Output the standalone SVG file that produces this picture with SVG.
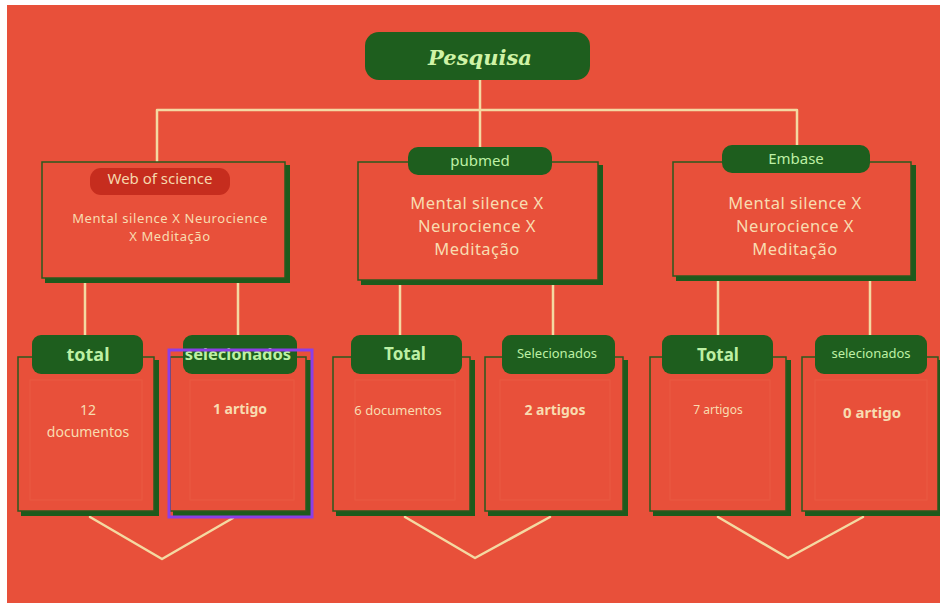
<svg xmlns="http://www.w3.org/2000/svg" width="940" height="603" viewBox="0 0 940 603">
<style>
.bg{fill:#E8503A}
.ln{stroke:#F4D9A2;stroke-width:2.5;fill:none;stroke-linecap:round;stroke-linejoin:round}
.sh{fill:#1E5A1C}
.bx{fill:#E8503A;stroke:#2A5A1E;stroke-width:1.5}
.inner{fill:none;stroke:#EA5A42;stroke-width:1}
.pill{fill:#1E5E1E}
.lab{font-family:"Noto Sans","Liberation Sans",sans-serif;fill:#BDF0A4;text-anchor:middle}
.body{font-family:"Noto Sans","Liberation Sans",sans-serif;fill:#F8DCB0;text-anchor:middle}
</style>
<rect x="0" y="0" width="940" height="603" fill="#FFFFFF"/>
<rect class="bg" x="7" y="5" width="933" height="598"/>

<g id="connectors">
  <path class="ln" d="M480 80 V110 M157 110 H797 M157 110 V162 M480 110 V147 M797 110 V145"/>
  <path class="ln" d="M85 280 V336 M238 280 V336 M400 282 V336 M553 282 V336 M718 278 V336 M870 278 V336"/>
  <path class="ln" d="M90 517 L162 559 L233 518"/>
  <path class="ln" d="M405 517 L475 558 L550 517"/>
  <path class="ln" d="M718 517 L788 558 L863 517"/>
</g>

<g id="pesquisa">
  <rect class="pill" x="365" y="32" width="225" height="48" rx="14"/>
  <text x="480" y="65" font-family="'DejaVu Serif','Liberation Serif',serif" font-weight="bold" font-style="italic" font-size="21" fill="#CFF3A6" text-anchor="middle">Pesquisa</text>
</g>

<g id="web-of-science">
  <rect class="sh" x="45" y="165" width="245" height="118"/>
  <rect class="bx" x="42" y="162" width="243" height="116"/>
  <rect x="90" y="168" width="140" height="27" rx="11" fill="#C62D1E"/>
  <text x="160" y="184" font-family="'Noto Sans','Liberation Sans',sans-serif" font-size="15" fill="#F6D8AC" text-anchor="middle">Web of science</text>
  <text class="body" x="170" y="223" font-size="13" letter-spacing="0.6">Mental silence X Neurocience</text>
  <text class="body" x="170" y="241" font-size="13" letter-spacing="0.6">X Meditação</text>
</g>

<g id="pubmed">
  <rect class="sh" x="361" y="165" width="242" height="120"/>
  <rect class="bx" x="358" y="162" width="240" height="118"/>
  <rect class="pill" x="408" y="147" width="144" height="28" rx="10"/>
  <text class="lab" x="480" y="166" font-size="15">pubmed</text>
  <text class="body" x="477" y="209" font-size="16.5" letter-spacing="0.5">Mental silence X</text>
  <text class="body" x="477" y="232" font-size="16.5" letter-spacing="0.5">Neurocience X</text>
  <text class="body" x="477" y="255" font-size="16.5" letter-spacing="0.5">Meditação</text>
</g>

<g id="embase">
  <rect class="sh" x="676" y="165" width="240" height="116"/>
  <rect class="bx" x="673" y="162" width="238" height="114"/>
  <rect class="pill" x="722" y="145" width="148" height="28" rx="10"/>
  <text class="lab" x="796" y="164" font-size="15">Embase</text>
  <text class="body" x="795" y="209" font-size="16.5" letter-spacing="0.5">Mental silence X</text>
  <text class="body" x="795" y="232" font-size="16.5" letter-spacing="0.5">Neurocience X</text>
  <text class="body" x="795" y="255" font-size="16.5" letter-spacing="0.5">Meditação</text>
</g>

<g id="wos-total">
  <rect class="sh" x="21" y="360" width="138" height="156"/>
  <rect class="bx" x="18" y="357" width="136" height="154"/>
  <rect class="inner" x="30" y="380" width="112" height="120"/>
  <rect class="pill" x="32" y="335" width="111" height="39" rx="9"/>
  <text class="lab" x="88" y="361" font-size="18" font-weight="bold">total</text>
  <text class="body" x="88" y="415" font-size="14">12</text>
  <text class="body" x="88" y="437" font-size="14">documentos</text>
</g>

<g id="wos-selecionados">
  <rect class="sh" x="173" y="360" width="138" height="156"/>
  <rect class="bx" x="170" y="357" width="136" height="154"/>
  <rect class="inner" x="190" y="380" width="104" height="120"/>
  <rect class="pill" x="183" y="335" width="114" height="39" rx="9"/>
  <text class="lab" x="238" y="360" font-size="16.5" font-weight="bold">selecionados</text>
  <text class="body" x="240" y="414" font-size="14" font-weight="bold">1 artigo</text>
  <rect x="169" y="350" width="143" height="167" fill="none" stroke="#8B3FE6" stroke-width="3"/>
</g>

<g id="pubmed-total">
  <rect class="sh" x="336" y="360" width="139" height="156"/>
  <rect class="bx" x="333" y="357" width="137" height="154"/>
  <rect class="inner" x="355" y="380" width="100" height="120"/>
  <rect class="pill" x="351" y="335" width="111" height="39" rx="9"/>
  <text class="lab" x="405" y="360" font-size="17" font-weight="bold">Total</text>
  <text class="body" x="398" y="415" font-size="13">6 documentos</text>
</g>

<g id="pubmed-selecionados">
  <rect class="sh" x="488" y="360" width="140" height="156"/>
  <rect class="bx" x="485" y="357" width="138" height="154"/>
  <rect class="inner" x="500" y="380" width="110" height="120"/>
  <rect class="pill" x="502" y="335" width="113" height="39" rx="9"/>
  <text class="lab" x="557" y="358" font-size="13">Selecionados</text>
  <text class="body" x="555" y="415" font-size="14" font-weight="bold">2 artigos</text>
</g>

<g id="embase-total">
  <rect class="sh" x="653" y="360" width="138" height="156"/>
  <rect class="bx" x="650" y="357" width="136" height="154"/>
  <rect class="inner" x="670" y="380" width="100" height="120"/>
  <rect class="pill" x="662" y="335" width="111" height="39" rx="9"/>
  <text class="lab" x="718" y="361" font-size="17" font-weight="bold">Total</text>
  <text class="body" x="718" y="414" font-size="12">7 artigos</text>
</g>

<g id="embase-selecionados">
  <rect class="sh" x="805" y="360" width="138" height="156"/>
  <rect class="bx" x="802" y="357" width="136" height="154"/>
  <rect class="inner" x="815" y="380" width="112" height="120"/>
  <rect class="pill" x="815" y="335" width="112" height="39" rx="9"/>
  <text class="lab" x="871" y="358" font-size="13">selecionados</text>
  <text class="body" x="872" y="418" font-size="15" font-weight="bold">0 artigo</text>
</g>
</svg>
